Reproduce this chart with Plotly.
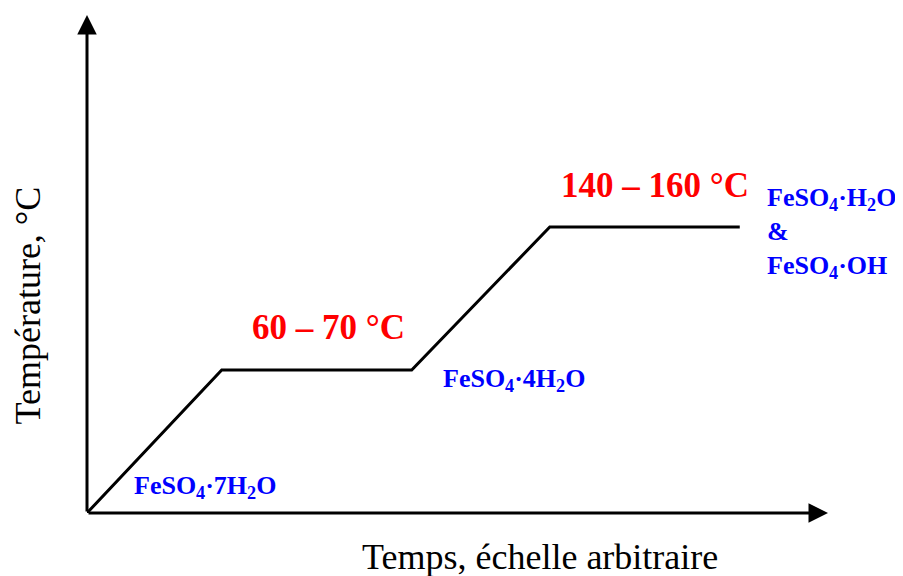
import plotly.graph_objects as go

# schematic heating curve (arbitrary time, arbitrary temperature levels)
temps_x = [0, 2.0, 4.82, 6.87, 9.69]
temps_y = [0, 1, 1, 2, 2]

plateau_labels = ["60 – 70 °C", "140 – 160 °C"]
phase_labels = [
    "FeSO<sub>4</sub>·7H<sub>2</sub>O",
    "FeSO<sub>4</sub>·4H<sub>2</sub>O",
    "FeSO<sub>4</sub>·H<sub>2</sub>O<br>&amp;<br>FeSO<sub>4</sub>·OH",
]
x_title = "Temps, échelle arbitraire"
y_title = "Température, °C"

serif = "Liberation Serif, Times New Roman, serif"

fig = go.Figure(go.Scatter(
    x=temps_x, y=temps_y, mode="lines",
    line=dict(color="black", width=3),
    hoverinfo="skip",
))

annotations = [
    # axis arrows
    dict(x=1, y=0, xref="paper", yref="paper", ax=-741, ay=0,
         showarrow=True, arrowhead=2, arrowsize=1.3, arrowwidth=3, arrowcolor="black", text=""),
    dict(x=0, y=1, xref="paper", yref="paper", ax=0, ay=498,
         showarrow=True, arrowhead=2, arrowsize=1.3, arrowwidth=3, arrowcolor="black", text=""),
    # axis titles
    dict(x=0.611, y=-0.088, xref="paper", yref="paper", text=x_title, showarrow=False,
         xanchor="center", yanchor="middle",
         font=dict(family=serif, size=36, color="black")),
    dict(x=-0.0796, y=0.4167, xref="paper", yref="paper", text=y_title, showarrow=False,
         xanchor="center", yanchor="middle", textangle=-90,
         font=dict(family=serif, size=36, color="black")),
    # plateau temperatures
    dict(x=3.58, y=1.294, text="<b>%s</b>" % plateau_labels[0], showarrow=False,
         font=dict(family=serif, size=35, color="#ff0000")),
    dict(x=8.43, y=2.287, text="<b>%s</b>" % plateau_labels[1], showarrow=False,
         font=dict(family=serif, size=35, color="#ff0000")),
    # phases
    dict(x=1.752, y=0.18, text="<b>%s</b>" % phase_labels[0], showarrow=False,
         font=dict(family=serif, size=26, color="#0000ff")),
    dict(x=6.34, y=0.93, text="<b>%s</b>" % phase_labels[1], showarrow=False,
         font=dict(family=serif, size=26, color="#0000ff")),
    dict(x=10.07, y=1.955, text="<b>%s</b>" % phase_labels[2], showarrow=False,
         xanchor="left", align="left",
         font=dict(family=serif, size=26, color="#0000ff")),
]

fig.update_layout(
    width=903, height=576,
    # the page adds an 8 px body margin, so the plot area is shifted back by 8 px
    margin=dict(l=79, r=83, t=7, b=71),
    paper_bgcolor="white", plot_bgcolor="white",
    showlegend=False,
    xaxis=dict(range=[0, 11], showgrid=False, zeroline=False, showline=False,
               showticklabels=False, ticks=""),
    yaxis=dict(range=[0, 3.4825], showgrid=False, zeroline=False, showline=False,
               showticklabels=False, ticks=""),
    annotations=annotations,
)

fig.write_html("out.html")
